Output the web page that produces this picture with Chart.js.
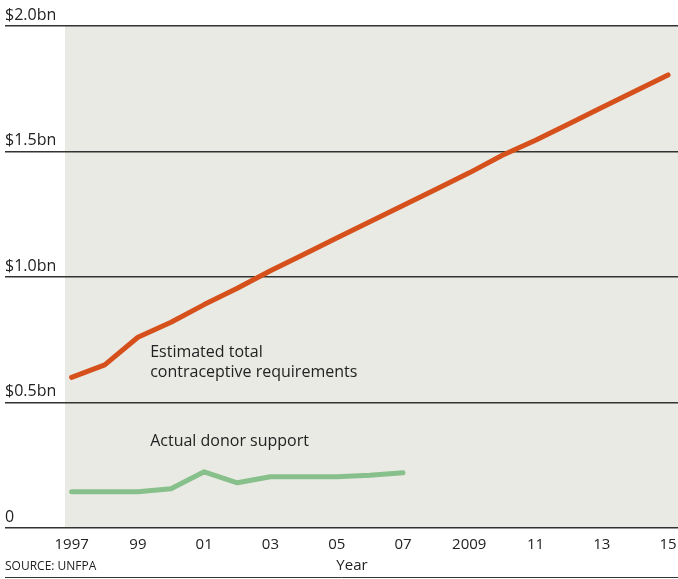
<!DOCTYPE html>
<html>
<head>
<meta charset="utf-8">
<script src="https://cdn.jsdelivr.net/npm/chart.js@4"></script>
<style>
  body { margin: 0; background: #fff; }
  .wrap { width: 678px; height: 579px; }
</style>
</head>
<body>
<div class="wrap"><canvas id="chart"></canvas></div>
<script>
const years = [1997, 1998, 1999, 2000, 2001, 2002, 2003, 2004, 2005, 2006, 2007, 2008, 2009, 2010, 2011, 2012, 2013, 2014, 2015];
const requirements = [0.60, 0.65, 0.76, 0.82, 0.89, 0.955, 1.025, 1.09, 1.155, 1.22, 1.285, 1.35, 1.415, 1.485, 1.545, 1.61, 1.675, 1.74, 1.805];
const donorSupport = [0.144, 0.144, 0.144, 0.156, 0.224, 0.18, 0.204, 0.204, 0.204, 0.21, 0.22];
const xTicks = [1997, 1999, 2001, 2003, 2005, 2007, 2009, 2011, 2013, 2015];
const xTickLabels = ['1997', '99', '01', '03', '05', '07', '2009', '11', '13', '15'];
const yTicks = [0, 0.5, 1, 1.5, 2];
const yTickLabels = ['0', '$0.5bn', '$1.0bn', '$1.5bn', '$2.0bn'];

const font = '"Open Sans", "Noto Sans", sans-serif';
const ink = '#222';

const notes = [
  { text: 'Estimated total', x: 1999.37, y: 0.70 },
  { text: 'contraceptive requirements', x: 1999.37, y: 0.62 },
  { text: 'Actual donor support', x: 1999.37, y: 0.343 }
];

const backdrop = {
  id: 'backdrop',
  beforeDraw(chart) {
    const { ctx, chartArea: a } = chart;
    ctx.save();
    ctx.fillStyle = '#e9eae4';
    ctx.fillRect(a.left, a.top, a.right - a.left, a.bottom - a.top);
    ctx.restore();
  },
  afterDraw(chart) {
    const { ctx, scales } = chart;
    ctx.save();
    ctx.fillStyle = ink;
    ctx.font = '16px ' + font;
    ctx.textBaseline = 'middle';
    ctx.textAlign = 'left';
    notes.forEach(n => {
      ctx.fillText(n.text, scales.x.getPixelForValue(n.x), scales.y.getPixelForValue(n.y));
    });
    ctx.font = '12px ' + font;
    ctx.fillText('SOURCE: UNFPA', 5, 567);
    ctx.font = '15px ' + font;
    ctx.textAlign = 'center';
    ctx.fillText('Year', 352, 566);
    ctx.strokeStyle = '#333';
    ctx.lineWidth = 1;
    ctx.beginPath();
    ctx.moveTo(5, 577.5);
    ctx.lineTo(678, 577.5);
    ctx.stroke();
    ctx.restore();
  }
};

new Chart(document.getElementById('chart'), {
  type: 'line',
  data: {
    datasets: [
      {
        label: 'Estimated total contraceptive requirements',
        data: years.map((y, i) => ({ x: y, y: requirements[i] })),
        borderColor: '#d6501c',
        borderWidth: 5,
        borderCapStyle: 'round',
        borderJoinStyle: 'round'
      },
      {
        label: 'Actual donor support',
        data: donorSupport.map((v, i) => ({ x: years[i], y: v })),
        borderColor: '#88c08b',
        borderWidth: 5,
        borderCapStyle: 'round',
        borderJoinStyle: 'round'
      }
    ]
  },
  options: {
    responsive: true,
    maintainAspectRatio: false,
    animation: false,
    layout: { padding: { left: 5, top: 26, right: 0, bottom: 0 } },
    elements: { point: { radius: 0 }, line: { tension: 0 } },
    plugins: { legend: { display: false }, tooltip: { enabled: false } },
    scales: {
      x: {
        type: 'linear',
        min: 1996.8,
        max: 2015.3,
        afterBuildTicks: s => { s.ticks = xTicks.map(v => ({ value: v })); },
        afterFit: s => { s.height = 51; s.paddingLeft = 0; s.paddingRight = 0; },
        grid: { display: false, drawTicks: false },
        border: { display: false },
        ticks: {
          padding: 8,
          color: ink,
          font: { family: font, size: 15 },
          maxRotation: 0,
          autoSkip: false,
          callback: v => xTickLabels[xTicks.indexOf(v)]
        }
      },
      y: {
        min: 0,
        max: 2,
        afterBuildTicks: s => { s.ticks = yTicks.map(v => ({ value: v })); },
        afterFit: s => { s.width = 60; s.paddingTop = 0; s.paddingBottom = 0; },
        grid: { color: '#333', lineWidth: 1.5, tickLength: 60, drawTicks: true },
        border: { display: false },
        ticks: {
          crossAlign: 'far',
          labelOffset: -11,
          padding: 0,
          color: ink,
          font: { family: font, size: 16 },
          callback: v => yTickLabels[yTicks.indexOf(v)]
        }
      }
    }
  },
  plugins: [backdrop]
});
</script>
</body>
</html>
